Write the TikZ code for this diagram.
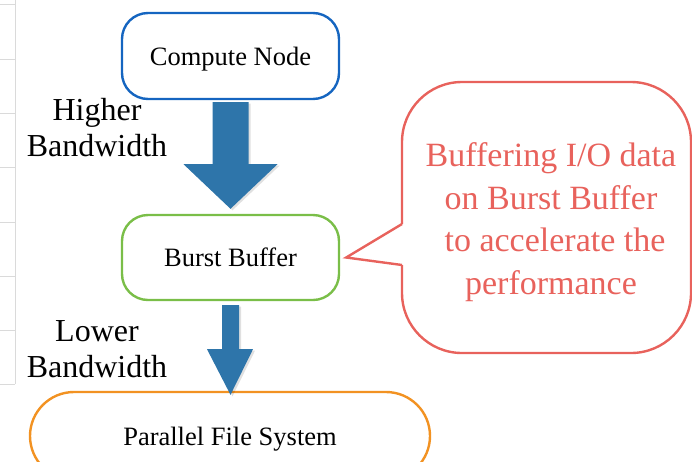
\documentclass[tikz,border=0pt]{standalone}
\usepackage{fontspec}
\setmainfont{Liberation Serif}
\usetikzlibrary{calc}
\definecolor{cnblue}{RGB}{21,101,192}
\definecolor{bbgreen}{RGB}{122,190,72}
\definecolor{pfsorange}{RGB}{242,146,34}
\definecolor{noteRed}{RGB}{232,98,92}
\definecolor{flowBlue}{RGB}{46,117,170}
\definecolor{gridGray}{RGB}{218,218,218}
\tikzset{
  box/.style={draw, line width=2.4pt, rounded corners=26pt, align=center,
    font=\fontsize{26.5}{30}\selectfont, inner sep=0pt, text depth=0pt},
  bwlabel/.style={align=center, font=\fontsize{32}{36}\selectfont, inner sep=0pt},
  flow/.style={fill=flowBlue, draw=none},
  flowshadow/.style={fill=black, opacity=0.12, draw=none},
  gridline/.style={draw=gridGray, line width=1pt}
}
\begin{document}
\begin{tikzpicture}[x=1pt,y=-1pt]
\useasboundingbox (0,0) rectangle (692,461);

% faint table edge along the left margin
\draw[gridline] (15,0) -- (15,384);
\foreach \yy in {4,59,113,167,222,276,330,384}
  \draw[gridline] (0,\yy) -- (15,\yy);

% storage tiers
\node[box, draw=cnblue, minimum width=217pt, minimum height=86pt] (cn) at (230.5,56) {Compute Node};
\node[box, draw=bbgreen, minimum width=217pt, minimum height=85pt] (bb) at (230.5,257.5) {Burst Buffer};
\node[box, draw=pfsorange, rounded corners=44pt, minimum width=400pt, minimum height=88pt] (pfs) at (230,436) {Parallel File System};

% bandwidth labels
\node[bwlabel] (hi) at (97,128) {Higher\\Bandwidth};
\node[bwlabel] (lo) at (97,349) {Lower\\Bandwidth};

% wide arrow: compute node -> burst buffer
\coordinate (a1s) at ($(cn.south)+(0,2)$);
\coordinate (a1t) at ($(bb.north)+(0,-5)$);
\fill[flowshadow] ($(a1s)+(-16,1.5)$) -- ($(a1s)+(20,1.5)$) -- ($(a1s)+(20,63.5)$) -- ($(a1s)+(49,63.5)$)
  -- ($(a1t)+(2,1.5)$) -- ($(a1s)+(-45,63.5)$) -- ($(a1s)+(-16,63.5)$) -- cycle;
\fill[flow] ($(a1s)+(-18,0)$) -- ($(a1s)+(18,0)$) -- ($(a1s)+(18,62)$) -- ($(a1s)+(47,62)$)
  -- (a1t) -- ($(a1s)+(-47,62)$) -- ($(a1s)+(-18,62)$) -- cycle;

% narrow arrow: burst buffer -> parallel file system
\coordinate (a2s) at ($(bb.south)+(0,4)$);
\coordinate (a2t) at ($(pfs.north)+(0.5,4)$);
\fill[flowshadow] ($(a2s)+(-6.5,1.5)$) -- ($(a2s)+(10.5,1.5)$) -- ($(a2s)+(10.5,45.5)$) -- ($(a2s)+(24.5,45.5)$)
  -- ($(a2t)+(2,1.5)$) -- ($(a2s)+(-21.5,45.5)$) -- ($(a2s)+(-6.5,45.5)$) -- cycle;
\fill[flow] ($(a2s)+(-8.5,0)$) -- ($(a2s)+(8.5,0)$) -- ($(a2s)+(8.5,44)$) -- ($(a2s)+(22.5,44)$)
  -- (a2t) -- ($(a2s)+(-23.5,44)$) -- ($(a2s)+(-8.5,44)$) -- cycle;

% speech bubble pointing at the burst buffer
\coordinate (tip) at ($(bb.east)+(6,0)$);
\draw[noteRed, line width=2.4pt, rounded corners=60pt, line join=miter]
  (402,224) -- (402,82) -- (691,82) -- (691,353) -- (402,353) -- (402,265);
\draw[noteRed, line width=2.4pt, line join=miter] (402,265) -- (tip) -- (402,224);
\node[align=center, text=noteRed, font=\fontsize{34}{42.5}\selectfont, inner sep=0pt] (note) at (551,222)
  {Buffering I/O data\\on Burst Buffer\\\hspace*{8pt}to accelerate the\\performance};
\end{tikzpicture}
\end{document}
